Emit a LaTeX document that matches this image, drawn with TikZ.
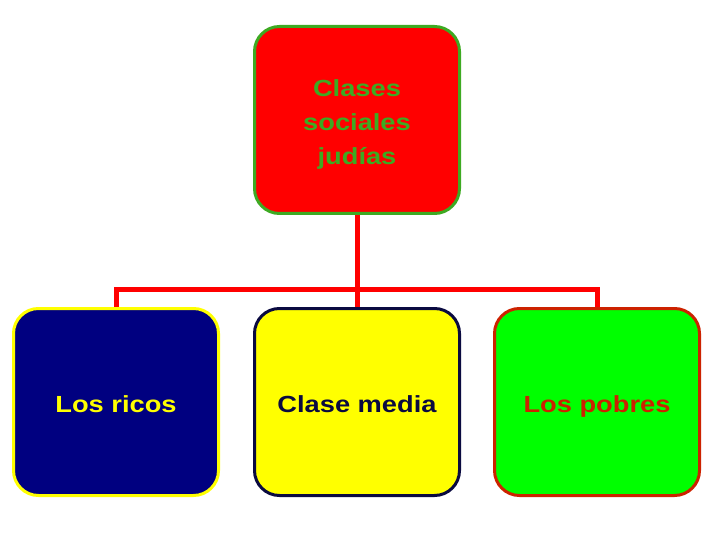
\documentclass[tikz,border=0pt]{standalone}
\usepackage{fontspec}
\setmainfont{Liberation Sans}
\usepackage{graphicx}
\definecolor{topgreen}{HTML}{3DAA22}
\definecolor{navy}{HTML}{000080}
\definecolor{darknavy}{HTML}{0A0A40}
\definecolor{brick}{HTML}{CC2200}
\definecolor{lime}{HTML}{00FF00}
\definecolor{pureyellow}{HTML}{FFFF00}
\newcommand{\lbl}[1]{\raisebox{-3.5pt}[\height][\depth]{\scalebox{1.17}[1]{\bfseries\fontsize{23.3}{34}\selectfont\begin{tabular}{@{}c@{}}#1\end{tabular}}}}
\begin{document}
\begin{tikzpicture}[x=1pt,y=-1pt,
  box/.style={rectangle, rounded corners=25pt, line width=3pt, minimum width=205pt, minimum height=187pt, inner sep=0pt},
  conn/.style={draw=red, line width=5pt}]
\useasboundingbox (0,0) rectangle (720,540);
\node[box, fill=red, draw=topgreen, text=topgreen] (top) at (357,120) {\lbl{Clases\\sociales\\judías}};
\node[box, fill=navy, draw=pureyellow, text=pureyellow] (rich) at (116,402) {\lbl{Los ricos}};
\node[box, fill=pureyellow, draw=darknavy, text=darknavy] (mid) at (357,402) {\lbl{Clase media}};
\node[box, fill=lime, draw=brick, text=brick] (poor) at (597,402) {\lbl{Los pobres}};
\coordinate (j) at (357,289);
\draw[conn] (top.south) -- (j);
\draw[conn] (rich.north) |- (j);
\draw[conn] (poor.north) |- (j);
\draw[conn] (mid.north) -- (j);
\end{tikzpicture}
\end{document}
